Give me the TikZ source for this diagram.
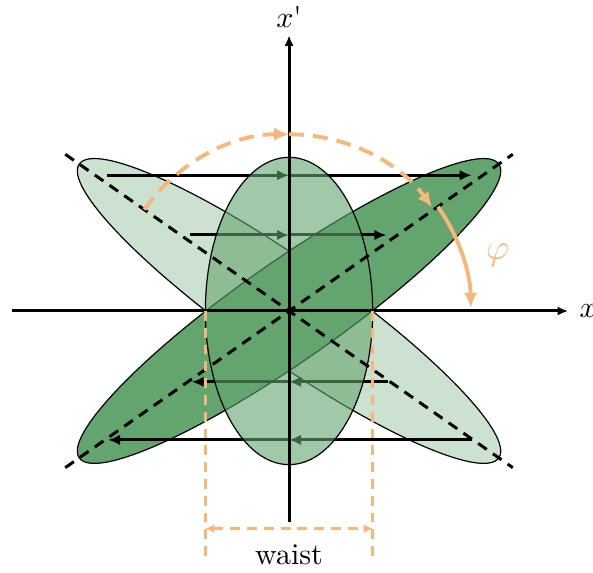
\documentclass[tikz,border=0pt]{standalone}
\usetikzlibrary{arrows.meta}

\definecolor{beamgreen}{RGB}{99,164,111}
\definecolor{rotorange}{RGB}{246,183,124}

\begin{document}
\begin{tikzpicture}[
    axis/.style={line width=1pt, -{Latex[length=3.5pt,width=3pt]}},
    flow/.style={line width=1pt, -{Latex[length=4pt,width=3.5pt]}},
    beam/.style={draw=black, fill=beamgreen},
    diag/.style={line width=1pt, dash pattern=on 3.5pt off 2.5pt},
    rotarc/.style={rotorange, line width=1.3pt, -{Latex[length=5pt,width=4.5pt]}},
    waistline/.style={rotorange, line width=1pt, dash pattern=on 3.3pt off 2.3pt}
]
\useasboundingbox (-3.386,-3.058) rectangle (3.561,3.643);

% phase space ellipses
\draw[beam, fill opacity=0.33, rotate=-35] (0,0) ellipse [x radius=3, y radius=0.58];
\draw[beam, rotate=35] (0,0) ellipse [x radius=3, y radius=0.58];

% shear arrows
\foreach \y/\xa/\xb in {1.59/-2.13/2.14, 0.89/-1.16/1.14, -0.83/1.16/-1.14, -1.51/2.14/-2.12} {
    \coordinate (s) at (\xa,\y);
    \coordinate (m) at (0,\y);
    \coordinate (e) at (\xb,\y);
    \draw[flow] (s) -- (m);
    \draw[flow] (m) -- (e);
}

\draw[beam, fill opacity=0.6] (0,0) ellipse [x radius=0.98, y radius=1.8];

% principal axes
\draw[diag] (145:3.2) -- (-35:3.2);
\draw[diag] (215:3.2) -- (35:3.2);

% coordinate axes
\draw[axis] (-3.25,0) -- (3.27,0) node[right] (xlab) {$x$};
\draw[axis] (0,-2.47) -- (0,3.23) node[above, inner sep=2pt] (xplab) {$x$\textquotesingle};

% rotation angle
\draw[rotarc, dash pattern=on 5pt off 3pt] (145:2.07) arc[start angle=145, end angle=90, radius=2.07];
\draw[rotarc, dash pattern=on 5pt off 3pt] (90:2.07) arc[start angle=90, end angle=36, radius=2.07];
\draw[rotarc] (35:2.13) arc[start angle=35, end angle=1, radius=2.13];
\node[rotorange, font=\large] (phi) at (15:2.53) {$\varphi$};

% waist
\coordinate (wl) at (-0.98,0);
\coordinate (wr) at (0.98,0);
\draw[waistline] (wl) -- ++(0,-2.9);
\draw[waistline] (wr) -- ++(0,-2.9);
\draw[waistline, {Latex[length=3pt,width=3pt]}-{Latex[length=3pt,width=3pt]}] (-0.98,-2.55) -- (0.98,-2.55)
    node[midway, below=1.5pt, text=black] (wlab) {waist};

\end{tikzpicture}
\end{document}
